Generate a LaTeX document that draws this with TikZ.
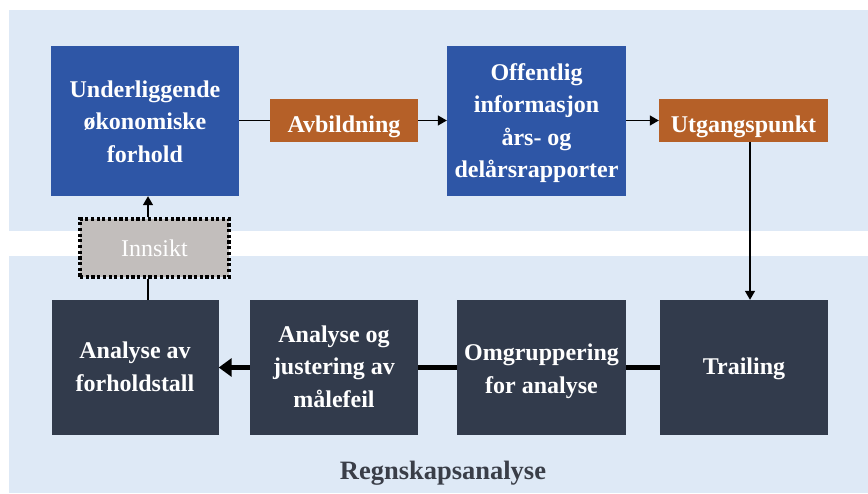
\documentclass[tikz,border=0pt]{standalone}
\usepackage{fontspec}
\setmainfont{Liberation Serif}
\usetikzlibrary{arrows.meta,positioning}
\definecolor{band}{RGB}{222,233,246}
\definecolor{boxblue}{RGB}{46,86,166}
\definecolor{boxorange}{RGB}{181,96,40}
\definecolor{boxdark}{RGB}{50,59,76}
\definecolor{boxgray}{RGB}{194,190,188}
\definecolor{titlegray}{RGB}{58,62,72}
% centred lines with even strut spacing, lowered by an optional amount
\newcommand\boxlines[2][1.5pt]{\raisebox{-#1}[\height][\depth]{\begin{tabular}{@{}c@{}}#2\end{tabular}}}
\tikzset{
  box/.style={inner sep=0pt, text=white,
    font=\fontsize{24}{32.5}\selectfont\bfseries},
  bluebox/.style={box, fill=boxblue, minimum width=188pt, minimum height=150pt},
  tagbox/.style={box, fill=boxorange, minimum height=43pt},
  darkbox/.style={box, fill=boxdark, minimum height=135pt},
  insightbox/.style={box, font=\fontsize{24}{32.5}\selectfont, fill=boxgray,
    draw=black, line width=3.2pt, dash pattern=on 3.2pt off 2.5pt,
    minimum width=149pt, minimum height=58pt},
  thin/.style={line width=1.4pt},
  thinarrow/.style={thin, -{Triangle[length=9pt,width=10pt]}},
  thick/.style={line width=5pt},
  thickarrow/.style={thick, -{Triangle[length=13pt,width=18pt]}}
}
\begin{document}
\begin{tikzpicture}[x=1pt,y=-1pt]
\useasboundingbox (0,0) rectangle (868,493);
% background bands
\fill[band] (9,10) rectangle (868,231);
\fill[band] (9,256) rectangle (868,493);

% upper row
\node[bluebox] (under) at (145,121) {\boxlines[2pt]{Underliggende\\økonomiske\\forhold}};
\node[tagbox, minimum width=148pt] (avb) at (344,120.5) {\boxlines[5pt]{Avbildning}};
\node[bluebox, minimum width=179pt] (off) at (536.5,121) {\boxlines{Offentlig\\informasjon\\års- og\\delårsrapporter}};
\node[tagbox, minimum width=169pt] (utg) at (743.5,120.5) {\boxlines[5pt]{Utgangspunkt}};

% feedback box
\node[insightbox] (inns) at (154.5,248) {\boxlines[2pt]{Innsikt}};

% lower row
\node[darkbox, minimum width=167pt] (aav) at (135,367.5) {\boxlines[1pt]{Analyse av\\forholdstall}};
\node[darkbox, minimum width=168pt] (aog) at (334,367.5) {\boxlines[0.5pt]{Analyse og\\justering av\\målefeil}};
\node[darkbox, minimum width=169pt] (omg) at (541.5,367.5) {\boxlines[3pt]{Omgruppering\\for analyse}};
\node[darkbox, minimum width=168pt] (tra) at (744,367.5) {\boxlines[0pt]{Trailing}};

\node[font=\fontsize{26.5}{30}\selectfont\bfseries, text=titlegray] (title) at (443,473) {Regnskapsanalyse};

% connectors
\coordinate (turn) at (750,0);
\coordinate (up) at (148,0);
\draw[thin] (under.east |- avb) -- (avb.west);
\draw[thinarrow] (avb.east) -- (off.west |- avb);
\draw[thinarrow] (off.east |- utg) -- (utg.west);
\draw[thinarrow] (utg.south -| turn) -- (tra.north -| turn);
\draw[thick] (tra.west) -- (omg.east);
\draw[thick] (omg.west) -- (aog.east);
\draw[thickarrow] (aog.west) -- (aav.east);
\draw[thin] (aav.north -| up) -- (inns.south -| up);
\draw[thinarrow] (inns.north -| up) -- (under.south -| up);
\end{tikzpicture}
\end{document}
